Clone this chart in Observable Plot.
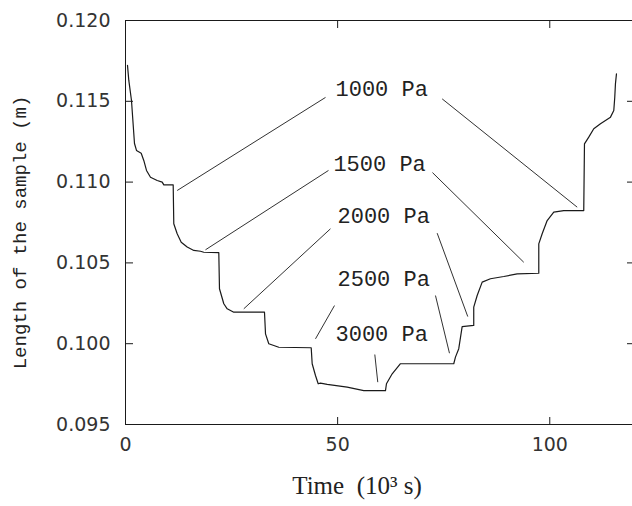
<!DOCTYPE html>
<html>
<head>
<meta charset="utf-8">
<script src="https://cdn.jsdelivr.net/npm/d3@7"></script>
<script src="https://cdn.jsdelivr.net/npm/@observablehq/plot@0.6"></script>
<style>
  html, body { margin: 0; padding: 0; background: #fff; }
  #chart { width: 632px; height: 506px; }
</style>
</head>
<body>
<div id="chart"></div>
<script>
// Time (10^3 s) and sample length (m)
const curveTime = [0.47, 0.78, 1.41, 2.12, 2.59, 3.70, 4.31, 4.95, 5.89, 7.47, 8.65, 9.03, 11.24,
  11.38, 12.18, 13.13, 14.54, 16.10, 17.68, 18.45, 21.99,
  22.15, 23.17, 23.97, 25.52, 32.76,
  33.0, 33.77, 36.13, 43.77,
  44.0, 44.78, 45.42, 45.96, 47.54, 52.25, 56.16, 61.28,
  61.51, 62.86, 64.81, 77.37,
  77.77, 78.55, 79.35, 82.08,
  82.08, 82.89, 84.07, 86.02, 89.16, 92.32, 97.41,
  97.41, 98.21, 99.39, 100.94, 103.30, 108.01,
  108.18, 109.19, 110.37, 111.95, 114.31, 115.09, 115.32, 115.48, 115.72];
const curveLength = [0.11722, 0.11629, 0.11505, 0.11239, 0.11196, 0.11179, 0.11134, 0.11072, 0.11030, 0.11010, 0.11000, 0.10983, 0.10983,
  0.10742, 0.10680, 0.10628, 0.10598, 0.10577, 0.10572, 0.10566, 0.10563,
  0.10340, 0.10247, 0.10216, 0.10195, 0.10195,
  0.10061, 0.10000, 0.09978, 0.09975,
  0.09876, 0.09803, 0.09752, 0.09756, 0.09748, 0.09731, 0.09710, 0.09710,
  0.09752, 0.09814, 0.09876, 0.09876,
  0.09917, 0.09969, 0.10106, 0.10113,
  0.10226, 0.10298, 0.10381, 0.10402, 0.10416, 0.10432, 0.10436,
  0.10618, 0.10680, 0.10762, 0.10814, 0.10824, 0.10824,
  0.11237, 0.11278, 0.11330, 0.11361, 0.11402, 0.11443, 0.11525, 0.11608, 0.11670];

// Annotations
const labelText = ["1000 Pa", "1500 Pa", "2000 Pa", "2500 Pa", "3000 Pa"];
const labelTime = [49.5, 49.0, 49.97, 49.97, 49.5];
const labelLength = [0.11579, 0.11115, 0.10793, 0.10403, 0.10063];

// Leader lines (start time, start length, end time, end length)
const leaderT1 = [12.18, 74.64, 18.85, 72.35, 27.88, 73.46, 44.78, 73.06, 58.76];
const leaderL1 = [0.10948, 0.11515, 0.10581, 0.11059, 0.10216, 0.10684, 0.10030, 0.10298, 0.09933];
const leaderT2 = [47.14, 106.46, 47.84, 93.87, 48.31, 80.67, 49.26, 76.36, 59.46];
const leaderL2 = [0.11524, 0.10845, 0.11072, 0.10504, 0.10711, 0.10168, 0.10236, 0.09941, 0.09762];

// Ticks
const xTicks = [0, 50, 100];
const yTicks = [0.095, 0.100, 0.105, 0.110, 0.115, 0.120];
const xDomain = [0, 119.5];
const yDomain = [0.095, 0.120];

const xLabel = "Time\u00A0\u00A0(10\u00B3\u00A0s)";
const yLabel = "Length of the sample (m)";

const curve = curveTime.map((t, i) => ({t, L: curveLength[i]}));
const labels = labelText.map((s, i) => ({s, t: labelTime[i], L: labelLength[i]}));
const leaders = leaderT1.map((t, i) => ({t1: t, L1: leaderL1[i], t2: leaderT2[i], L2: leaderL2[i]}));

const ink = "#1a1a1a";
const xTickLen = 7, yTickLen = 8, yTickLenR = 6;

const chart = Plot.plot({
  width: 632,
  height: 506,
  marginLeft: 125,
  marginRight: 0,
  marginTop: 20,
  marginBottom: 82,
  style: {background: "#fff", color: "#333", fontFamily: "DejaVu Sans", fontSize: "19px"},
  x: {domain: xDomain},
  y: {domain: yDomain},
  marks: [
    // frame: top, bottom, left
    Plot.ruleY(yDomain, {stroke: ink, strokeWidth: 1}),
    Plot.ruleX([xDomain[0]], {stroke: ink, strokeWidth: 1}),
    // inward ticks (axis ticks shifted inside the frame)
    Plot.axisX(xTicks, {anchor: "bottom", tickSize: xTickLen, dy: -xTickLen, fill: "none", stroke: ink, label: null}),
    Plot.axisX(xTicks, {anchor: "top", tickSize: xTickLen, dy: xTickLen, fill: "none", stroke: ink, label: null}),
    Plot.axisY(yTicks, {anchor: "left", tickSize: yTickLen, dx: yTickLen, fill: "none", stroke: ink, label: null}),
    Plot.axisY(yTicks, {anchor: "right", tickSize: yTickLenR, dx: -yTickLenR, fill: "none", stroke: ink, label: null}),
    // tick labels
    Plot.axisX(xTicks, {anchor: "bottom", tickSize: 0, tickPadding: 13, tickFormat: d3.format("d"), fontSize: 19, label: null, fill: "#333"}),
    Plot.axisY(yTicks, {anchor: "left", tickSize: 0, tickPadding: 15, tickFormat: d3.format(".3f"), fontSize: 19, label: null, fill: "#333"}),
    // data
    Plot.line(curve, {x: "t", y: "L", stroke: ink, strokeWidth: 1.2, curve: "linear"}),
    Plot.link(leaders, {x1: "t1", y1: "L1", x2: "t2", y2: "L2", stroke: ink, strokeWidth: 0.9}),
    Plot.text(labels, {x: "t", y: "L", text: "s", textAnchor: "start", lineAnchor: "middle", fontFamily: "Liberation Mono", fontSize: 22, fill: "#222"}),
    // axis titles
    Plot.text([xLabel], {frameAnchor: "bottom", textAnchor: "middle", dx: -22, dy: 61, lineAnchor: "middle", fontFamily: "Liberation Serif", fontSize: 25, fill: "#222"}),
    Plot.text([yLabel], {frameAnchor: "left", textAnchor: "middle", dx: -106, dy: 10, rotate: -90, lineAnchor: "middle", fontFamily: "Liberation Mono", fontSize: 19, fill: "#222"})
  ]
});
document.getElementById("chart").appendChild(chart);
</script>
</body>
</html>
